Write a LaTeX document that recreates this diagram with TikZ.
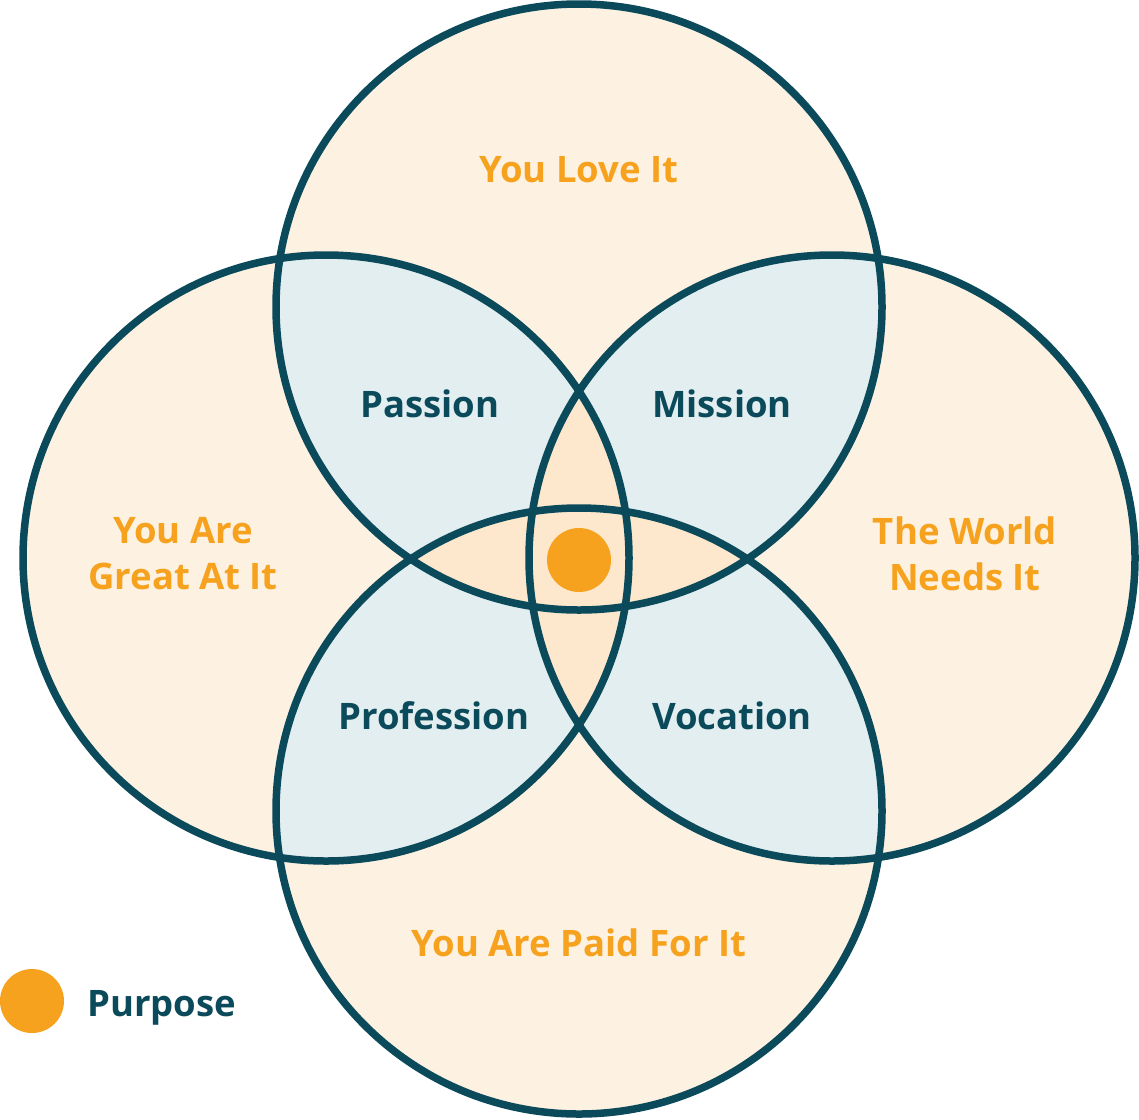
\documentclass[tikz,border=0pt]{standalone}
\usepackage{fontspec}
\IfFontExistsTF{Open Sans SemiBold}{\setmainfont{Open Sans SemiBold}}{\setmainfont{Open Sans}[UprightFont=*-Bold]}
\definecolor{teal}{HTML}{0B4A5A}
\definecolor{lpeach}{HTML}{FDF2E2}
\definecolor{dpeach}{HTML}{FDE8CD}
\definecolor{lblue}{HTML}{E2EEF0}
\definecolor{orng}{HTML}{F7A21E}
\begin{document}
\begin{tikzpicture}[x=1pt,y=-1pt,
  ring/.style={draw=teal,line width=7.5pt},
  outer/.style={text=orng,align=center,inner sep=0pt,font=\fontsize{36.5}{46}\selectfont},
  inner/.style={text=teal,align=center,inner sep=0pt,font=\fontsize{36.5}{46}\selectfont}]
\useasboundingbox (0,0) rectangle (1139,1119);
\coordinate (T) at (579,307);
\coordinate (B) at (579,811);
\coordinate (L) at (326,558);
\coordinate (R) at (832,558);
\def\rr{303pt}
% base fills
\foreach \c in {T,B,L,R} \fill[lpeach] (\c) circle[radius=\rr];
% adjacent pair overlaps
\begin{scope}\clip (T) circle[radius=\rr]; \fill[lblue] (L) circle[radius=\rr]; \fill[lblue] (R) circle[radius=\rr];\end{scope}
\begin{scope}\clip (B) circle[radius=\rr]; \fill[lblue] (L) circle[radius=\rr]; \fill[lblue] (R) circle[radius=\rr];\end{scope}
% opposite pair overlaps
\begin{scope}\clip (T) circle[radius=\rr]; \fill[dpeach] (B) circle[radius=\rr];\end{scope}
\begin{scope}\clip (L) circle[radius=\rr]; \fill[dpeach] (R) circle[radius=\rr];\end{scope}
% outlines
\foreach \c in {T,B,L,R} \draw[ring] (\c) circle[radius=\rr];
% purpose dot
\fill[orng] (579,560) circle[radius=32pt];
% labels
\node[outer] (love) at (579,170) {You Love It};
\node[outer] (great) at (183,554) {You Are\\Great At It};
\node[outer] (world) at (965,554) {The World\\Needs It};
\node[outer] (paid) at (579,943) {You Are Paid For It};
\node[inner] (passion) at (430,404) {Passion};
\node[inner] (mission) at (722,404) {Mission};
\node[inner] (profession) at (434,716) {Profession};
\node[inner] (vocation) at (732,716) {Vocation};
% legend
\fill[orng] (32,1001) circle[radius=32pt];
\node[inner,anchor=base west] (purpose) at (87,1016) {Purpose};
\end{tikzpicture}
\end{document}
